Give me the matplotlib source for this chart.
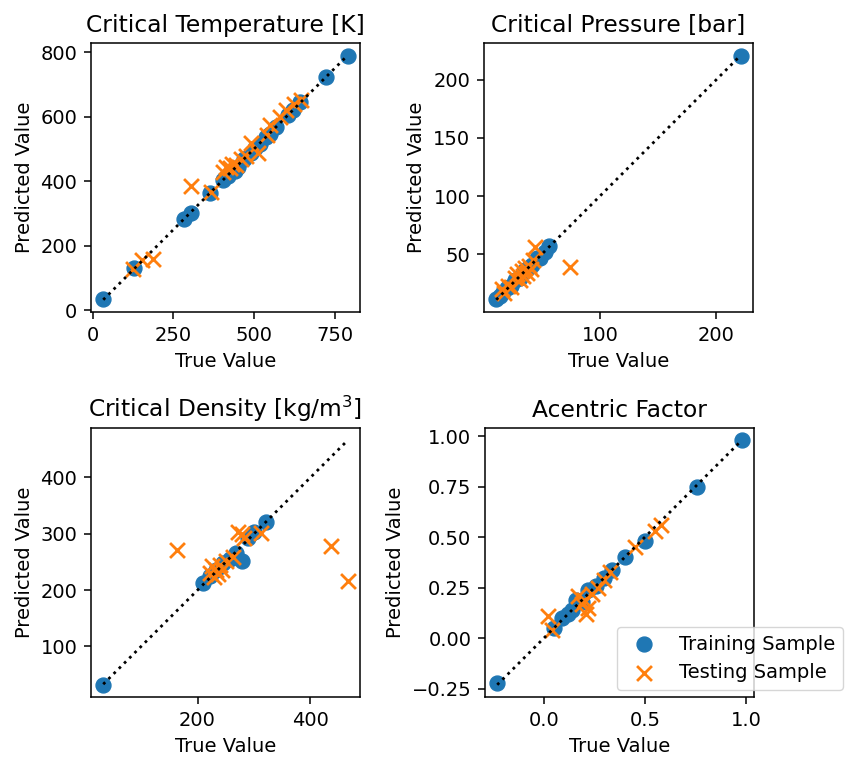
import matplotlib
matplotlib.use('Agg')
import matplotlib.pyplot as plt

# Critical temperature [K]
tc_train_true = [33, 129, 284, 304, 363, 404, 420, 440, 451, 470, 492, 502, 520, 539, 549, 570, 605, 621, 642, 722, 791]
tc_train_pred = [34, 133, 284, 303, 365, 404, 418, 432, 445, 468, 487, 502, 515, 538, 548, 569, 607, 620, 646, 723, 790]
tc_test_true = [126, 152, 188, 304, 368, 404, 415, 426, 432, 445, 460, 475, 492, 513, 540, 549, 580, 600, 625, 645]
tc_test_pred = [128, 157, 160, 386, 366, 430, 445, 440, 455, 450, 470, 478, 520, 487, 545, 575, 600, 620, 640, 652]

# Critical pressure [bar]
pc_train_true = [11, 14, 17, 20, 24, 27, 31, 35, 38, 42, 46, 49, 53, 56, 221]
pc_train_pred = [12, 14, 18, 21, 23, 28, 30, 36, 38, 41, 47, 47, 52, 57, 220]
pc_test_true = [16, 18, 21, 24, 27, 29, 31, 33, 34, 36, 37, 39, 41, 43, 44, 74]
pc_test_pred = [20, 17, 23, 22, 30, 33, 28, 36, 31, 38, 34, 40, 37, 45, 56, 39]

# Critical density [kg/m3]
rho_train_true = [33, 210, 222, 232, 245, 258, 268, 279, 290, 300, 322]
rho_train_pred = [32, 212, 225, 236, 248, 255, 265, 252, 292, 304, 321]
rho_test_true = [163, 222, 226, 229, 232, 236, 240, 244, 250, 262, 272, 278, 282, 312, 437, 466]
rho_test_pred = [271, 230, 242, 224, 236, 228, 245, 236, 252, 258, 304, 300, 292, 301, 278, 216]

# Acentric factor
w_train_true = [-0.23, 0.05, 0.09, 0.12, 0.14, 0.16, 0.19, 0.22, 0.26, 0.30, 0.34, 0.40, 0.50, 0.76, 0.98]
w_train_pred = [-0.22, 0.05, 0.10, 0.12, 0.14, 0.19, 0.18, 0.24, 0.26, 0.30, 0.34, 0.40, 0.48, 0.75, 0.98]
w_test_true = [0.02, 0.04, 0.17, 0.19, 0.20, 0.21, 0.22, 0.24, 0.27, 0.30, 0.33, 0.45, 0.55, 0.58]
w_test_pred = [0.11, 0.04, 0.21, 0.17, 0.19, 0.12, 0.15, 0.22, 0.25, 0.29, 0.33, 0.45, 0.53, 0.56]

titles = ["Critical Temperature [K]", "Critical Pressure [bar]",
          "Critical Density [kg/m$^3$]", "Acentric Factor"]
panels = [
    (tc_train_true, tc_train_pred, tc_test_true, tc_test_pred),
    (pc_train_true, pc_train_pred, pc_test_true, pc_test_pred),
    (rho_train_true, rho_train_pred, rho_test_true, rho_test_pred),
    (w_train_true, w_train_pred, w_test_true, w_test_pred),
]

W, H = 847, 757
# axes boxes in pixels: left, top, right, bottom
boxes = [(91, 43, 360, 312), (484, 43, 753, 312),
         (91, 428, 360, 697), (485, 428, 754, 697)]

fig = plt.figure(figsize=(W / 100, H / 100), dpi=100)
fs = 14

axes = []
for (l, t, r, b), title, (xtr, ytr, xte, yte) in zip(boxes, titles, panels):
    ax = fig.add_axes([l / W, (H - b) / H, (r - l) / W, (b - t) / H])
    ax.scatter(xtr, ytr, s=115, color='#1f77b4', label='Training Sample', zorder=2)
    ax.scatter(xte, yte, s=115, marker='x', color='#ff7f0e', linewidths=2.0,
               label='Testing Sample', zorder=3)
    # y = x reference line over the full range of true values
    lo = min(min(xtr), min(xte))
    hi = max(max(xtr), max(xte))
    ax.plot([lo, hi], [lo, hi], 'k:', linewidth=2.0, zorder=4)
    ax.set_title(title, fontsize=16.8, pad=8)
    ax.set_xlabel("True Value", fontsize=fs, labelpad=5)
    ax.set_ylabel("Predicted Value", fontsize=fs, labelpad=5)
    ax.tick_params(labelsize=fs, length=4.9, width=1.1, pad=4.9)
    for sp in ax.spines.values():
        sp.set_linewidth(1.1)
    axes.append(ax)

axes[0].set_xticks([0, 250, 500, 750])
axes[0].set_yticks([0, 200, 400, 600, 800])
axes[1].set_xticks([100, 200])
axes[1].set_yticks([50, 100, 150, 200])
axes[2].set_xticks([200, 400])
axes[2].set_yticks([100, 200, 300, 400])
axes[3].set_xticks([0.0, 0.5, 1.0])
axes[3].set_yticks([-0.25, 0.0, 0.25, 0.5, 0.75, 1.0])

axes[3].legend(loc='lower left', bbox_to_anchor=(0.49, 0.026), borderaxespad=0,
               fontsize=fs)

fig.savefig("out.png", dpi=100)
